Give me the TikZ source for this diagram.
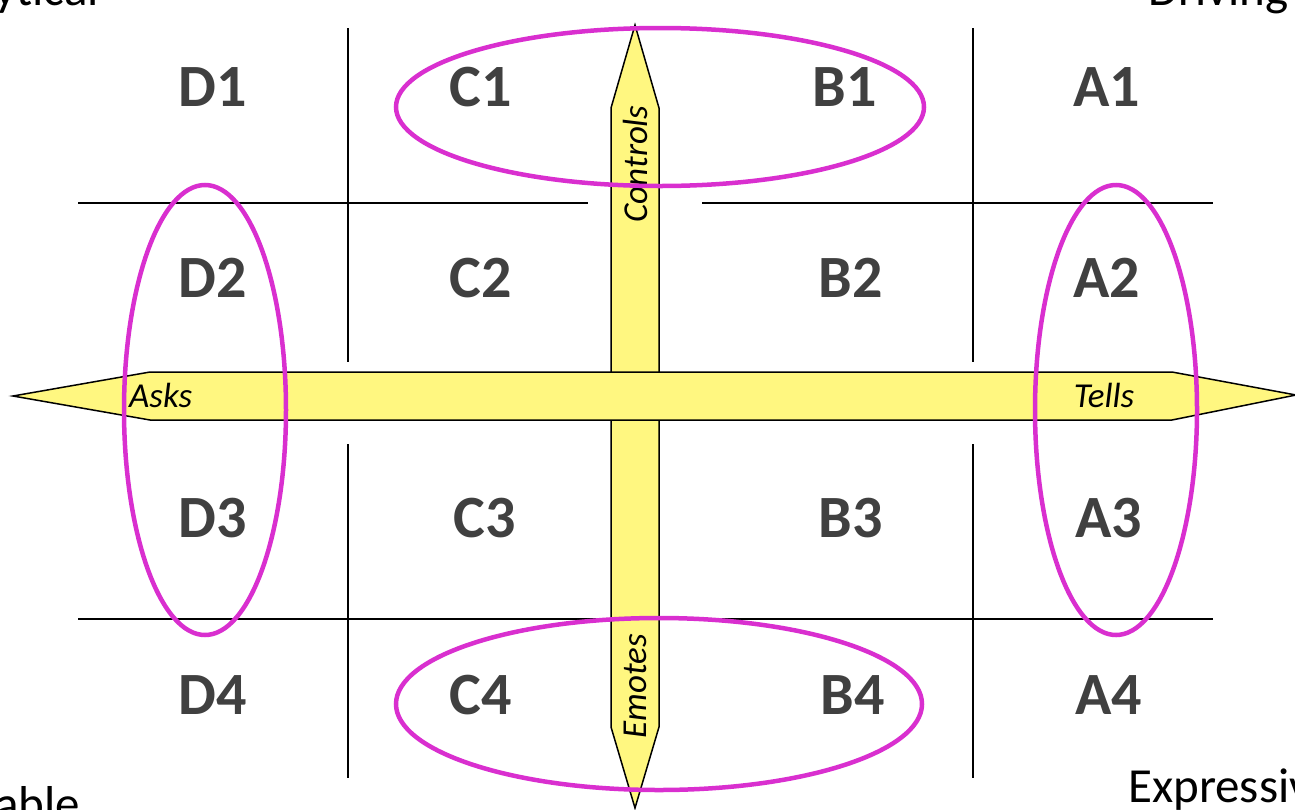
\documentclass[tikz,border=0pt]{standalone}
\usepackage{fontspec}
\setmainfont{Carlito}
\definecolor{arrowfill}{HTML}{FFF780}
\definecolor{ringcol}{HTML}{D92FCF}
\definecolor{cellcol}{HTML}{404040}
\begin{document}
\begin{tikzpicture}[x=1pt,y=-1pt,
  gridline/.style={line width=1.5pt},
  bigarrow/.style={fill=arrowfill, draw=black, line width=1.5pt, line join=miter},
  ring/.style={draw=ringcol, line width=4.5pt},
  cellname/.style={font=\fontsize{60}{60}\selectfont\bfseries, text=cellcol, inner sep=0pt},
  axisname/.style={font=\fontsize{35}{35}\selectfont\itshape, inner sep=0pt},
  cornername/.style={font=\fontsize{49}{49}\selectfont, inner sep=0pt}]
\useasboundingbox (0,0) rectangle (1295,809);
\clip (0,0) rectangle (1295,809);

% grid of the sixteen cells
\draw[gridline] (348,28) -- (348,362) (348,444) -- (348,778);
\draw[gridline] (973,28) -- (973,362) (973,444) -- (973,778);
\draw[gridline] (78,203) -- (588,203) (702,203) -- (1213,203);
\draw[gridline] (78,619) -- (1213,619);

% vertical double arrow: Controls / Emotes
\draw[bigarrow] (635,25) -- (659,108) -- (659,727) -- (635,808)
  -- (611,727) -- (611,108) -- cycle;
% horizontal double arrow: Asks / Tells
\draw[bigarrow] (13,396) -- (150,372) -- (1172,372) -- (1296,395)
  -- (1172,420) -- (150,420) -- cycle;

% axis labels
\node[axisname, rotate=90] (controls) at (635,164) {Controls};
\node[axisname, rotate=90] (emotes) at (635,686) {Emotes};
\node[axisname, anchor=west] (asks) at (129,395) {Asks};
\node[axisname] (tells) at (1104,395) {Tells};

% cell labels
\node[cellname] (d1) at (213,87) {D1};
\node[cellname] (c1) at (481,87) {C1};
\node[cellname] (b1) at (845,87) {B1};
\node[cellname] (a1) at (1107,87) {A1};
\node[cellname] (d2) at (213,278) {D2};
\node[cellname] (c2) at (481,278) {C2};
\node[cellname] (b2) at (851,278) {B2};
\node[cellname] (a2) at (1107,278) {A2};
\node[cellname] (d3) at (213,518) {D3};
\node[cellname] (c3) at (485,518) {C3};
\node[cellname] (b3) at (851,518) {B3};
\node[cellname] (a3) at (1109,518) {A3};
\node[cellname] (d4) at (213,695) {D4};
\node[cellname] (c4) at (481,695) {C4};
\node[cellname] (b4) at (853,695) {B4};
\node[cellname] (a4) at (1109,695) {A4};

% corner style names
\node[cornername, anchor=base east] (analytical) at (99,5) {Analytical};
\node[cornername, anchor=base east] (driving) at (1289,5) {Driving};
\node[cornername, anchor=base east] (agreeable) at (80,820) {Agreeable};
\node[cornername, anchor=base west] (expressive) at (1128,802) {Expressive};

% highlighted groups
\draw[ring] (660,107) ellipse [x radius=264, y radius=79];
\draw[ring] (659,704) ellipse [x radius=263, y radius=86];
\draw[ring] (205,410) ellipse [x radius=81, y radius=225];
\draw[ring] (1116,410) ellipse [x radius=81, y radius=225];
\end{tikzpicture}
\end{document}
